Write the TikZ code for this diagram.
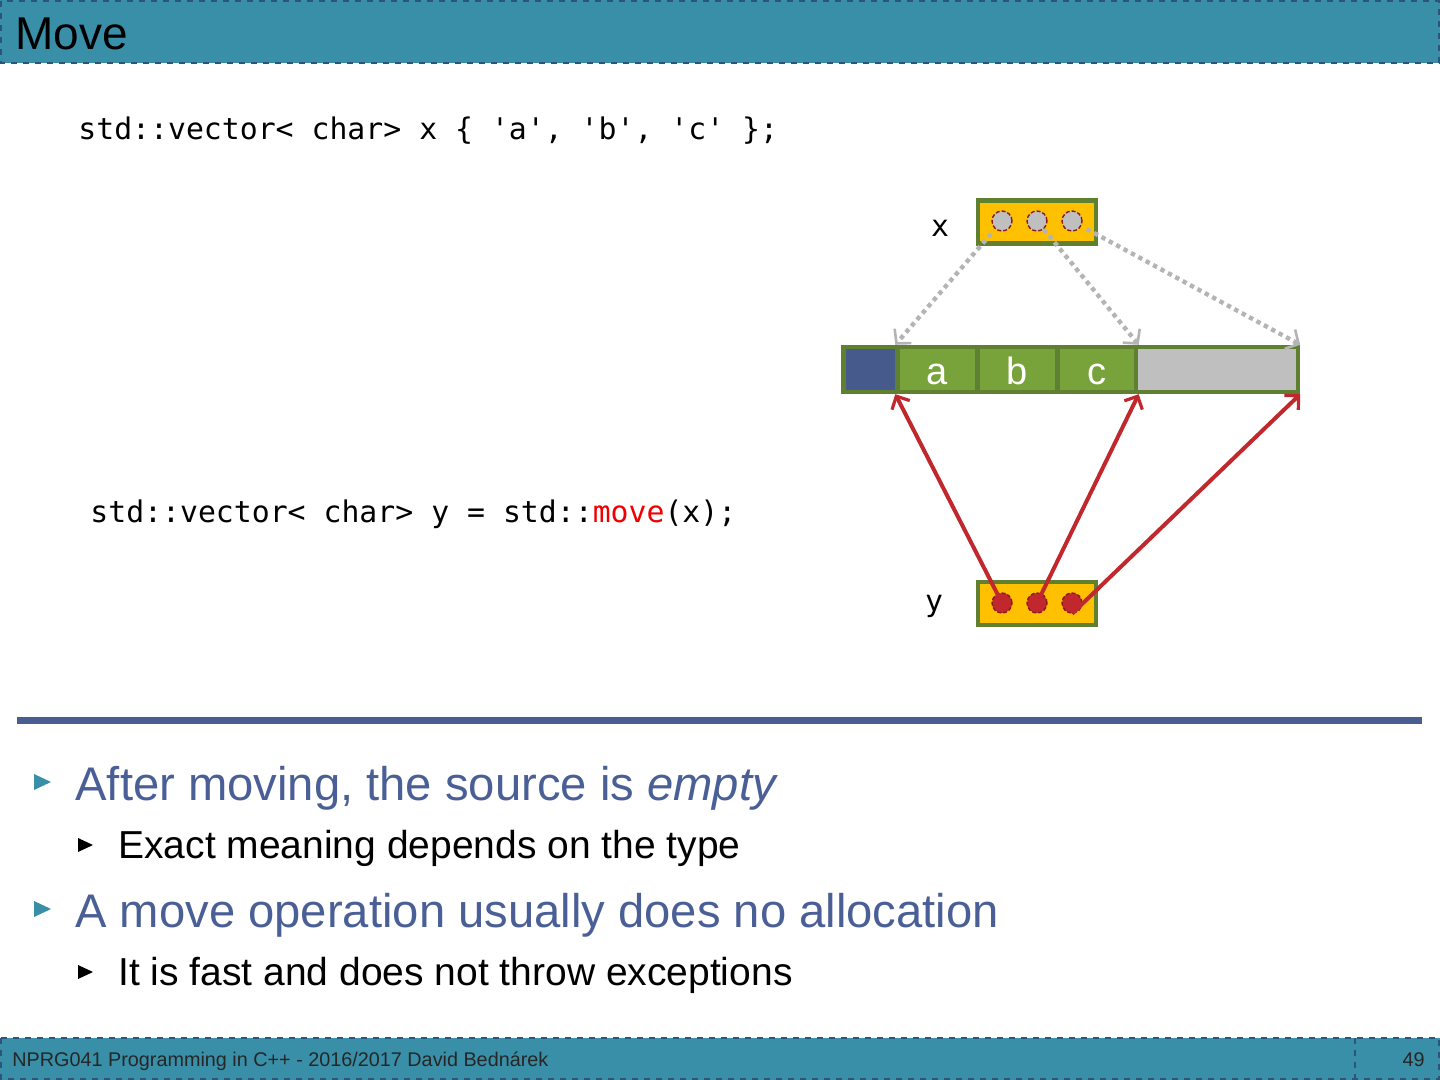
\documentclass[tikz,border=0pt]{standalone}
\usepackage{fontspec}
\setmainfont{Liberation Sans}
\setmonofont{DejaVu Sans Mono}
\usetikzlibrary{arrows.meta}
\definecolor{barteal}{HTML}{3A8FA8}
\definecolor{bardash}{HTML}{2C5577}
\definecolor{ruleblue}{HTML}{485D91}
\definecolor{bullettext}{HTML}{4A5F96}
\definecolor{olivegreen}{HTML}{5E8030}
\definecolor{orangebox}{HTML}{FFC000}
\definecolor{cellgreen}{HTML}{78A23A}
\definecolor{hdrblue}{HTML}{465A8C}
\definecolor{slotgray}{HTML}{BFBFBF}
\definecolor{dotgray}{HTML}{B4B4B4}
\definecolor{movered}{HTML}{C0282D}
\definecolor{circdark}{HTML}{8B1A1A}
\definecolor{codered}{HTML}{F00000}
\tikzset{
  codetext/.style={anchor=base west, inner sep=0, font=\fontsize{14.9}{18}\ttfamily},
  ptrbox/.style={draw=olivegreen, fill=orangebox, line width=2.2pt, minimum width=59pt, minimum height=21.5pt, inner sep=0},
  gcirc/.style={circle, draw=circdark, dashed, dash pattern=on 2pt off 1pt, fill=slotgray, line width=0.7pt, minimum size=10pt, inner sep=0},
  rcirc/.style={circle, draw=circdark, dashed, dash pattern=on 2pt off 1pt, fill=movered, line width=0.7pt, minimum size=10pt, inner sep=0},
  cellbox/.style={draw=olivegreen, line width=2.2pt, minimum height=22.5pt, inner sep=0, text=white, text height=15pt, text depth=0pt, font=\fontsize{19}{22}\selectfont},
  gdot/.style={dotgray, line width=2.2pt, dash pattern=on 2.2pt off 2pt, -{Straight Barb[length=5pt,width=11pt,line width=1.3pt]}},
  rarrow/.style={movered, line width=2pt, -{Straight Barb[length=5pt,width=10pt,line width=1.6pt]}},
  lone/.style={anchor=base west, inner sep=0, text=bullettext, font=\fontsize{23.6}{28}\selectfont},
  ltwo/.style={anchor=base west, inner sep=0, text=black, font=\fontsize{19.5}{23}\selectfont},
  foot/.style={inner sep=0, text=black!85, font=\fontsize{9.9}{11}\selectfont}
}
\begin{document}
\begin{tikzpicture}[x=0.5pt,y=-0.5pt]
\useasboundingbox (0,0) rectangle (1440,1080);
% title bar
\fill[barteal] (0,0) rectangle (1440,63);
\draw[bardash, dashed, line width=0.6pt] (1,1) rectangle (1439,63);
\node[anchor=base west, inner sep=0, font=\fontsize{23}{26}\selectfont] (title) at (15,50) {Move};
% code lines
\node[codetext] (code1) at (78,140) {std::vector< char> x \{ 'a', 'b', 'c' \};};
\node[codetext] (code2) at (90,522) {std::vector< char> y = std::\textcolor{codered}{move}(x);};
% labels
\node[inner sep=0, font=\fontsize{14.9}{18}\ttfamily] (xlab) at (940,228) {x};
\node[inner sep=0, font=\fontsize{14.9}{18}\ttfamily] (ylab) at (934,606) {y};
% pointer boxes
\node[ptrbox] (xbox) at (1037,222) {};
\node[ptrbox] (ybox) at (1037,603.5) {};
\node[gcirc] (xc1) at (1002,221) {};
\node[gcirc] (xc2) at (1037,221) {};
\node[gcirc] (xc3) at (1072,221) {};
\node[rcirc] (yc1) at (1002,603) {};
\node[rcirc] (yc2) at (1037,603) {};
\node[rcirc] (yc3) at (1072,603) {};
% buffer strip
\node[cellbox, fill=hdrblue, minimum width=27pt] (hdr) at (870.5,369.5) {};
\node[cellbox, fill=cellgreen, minimum width=40pt] (ca) at (937.5,369.5) {a};
\node[cellbox, fill=cellgreen, minimum width=40pt] (cb) at (1017.5,369.5) {b};
\node[cellbox, fill=cellgreen, minimum width=39.5pt] (cc) at (1097,369.5) {c};
\node[cellbox, fill=slotgray, minimum width=81pt] (free) at (1217,369.5) {};
% gray dotted pointers
\draw[gdot, shorten <=3pt] (xc1) -- (ca.north west);
\draw[gdot] (xc2) -- (cc.north east);
\draw[gdot, shorten <=3pt] (xc3) -- (free.north east);
% red pointers
\draw[rarrow] (yc1.center) -- (ca.south west);
\draw[rarrow] (yc2.center) -- (cc.south east);
\draw[rarrow] (yc3.south) -- (free.south east);
% rule
\draw[ruleblue, line width=3.5pt] (17,720.5) -- (1422,720.5);
% bullets
\fill[barteal] (34,774) -- (51,782) -- (34,790) -- cycle;
\fill[black] (78,838) -- (93,845) -- (78,852) -- cycle;
\fill[barteal] (34,901) -- (51,909) -- (34,917) -- cycle;
\fill[black] (78,965) -- (93,972) -- (78,979) -- cycle;
\node[lone] (b1) at (75,800) {After moving, the source is \textit{empty}};
\node[ltwo] (b2) at (118,858) {Exact meaning depends on the type};
\node[lone] (b3) at (75,927) {A move operation usually does no allocation};
\node[ltwo] (b4) at (118,985) {It is fast and does not throw exceptions};
% footer
\fill[barteal] (0,1038) rectangle (1440,1080);
\draw[bardash, dashed, line width=0.6pt] (1,1038) rectangle (1439,1079);
\draw[bardash, dashed, line width=0.6pt] (1355,1038) -- (1355,1080);
\node[foot, anchor=base west] (ftxt) at (12,1066) {NPRG041 Programming in C++ - 2016/2017 David Bednárek};
\node[foot, anchor=base east] (fnum) at (1425,1066) {49};
\end{tikzpicture}
\end{document}
